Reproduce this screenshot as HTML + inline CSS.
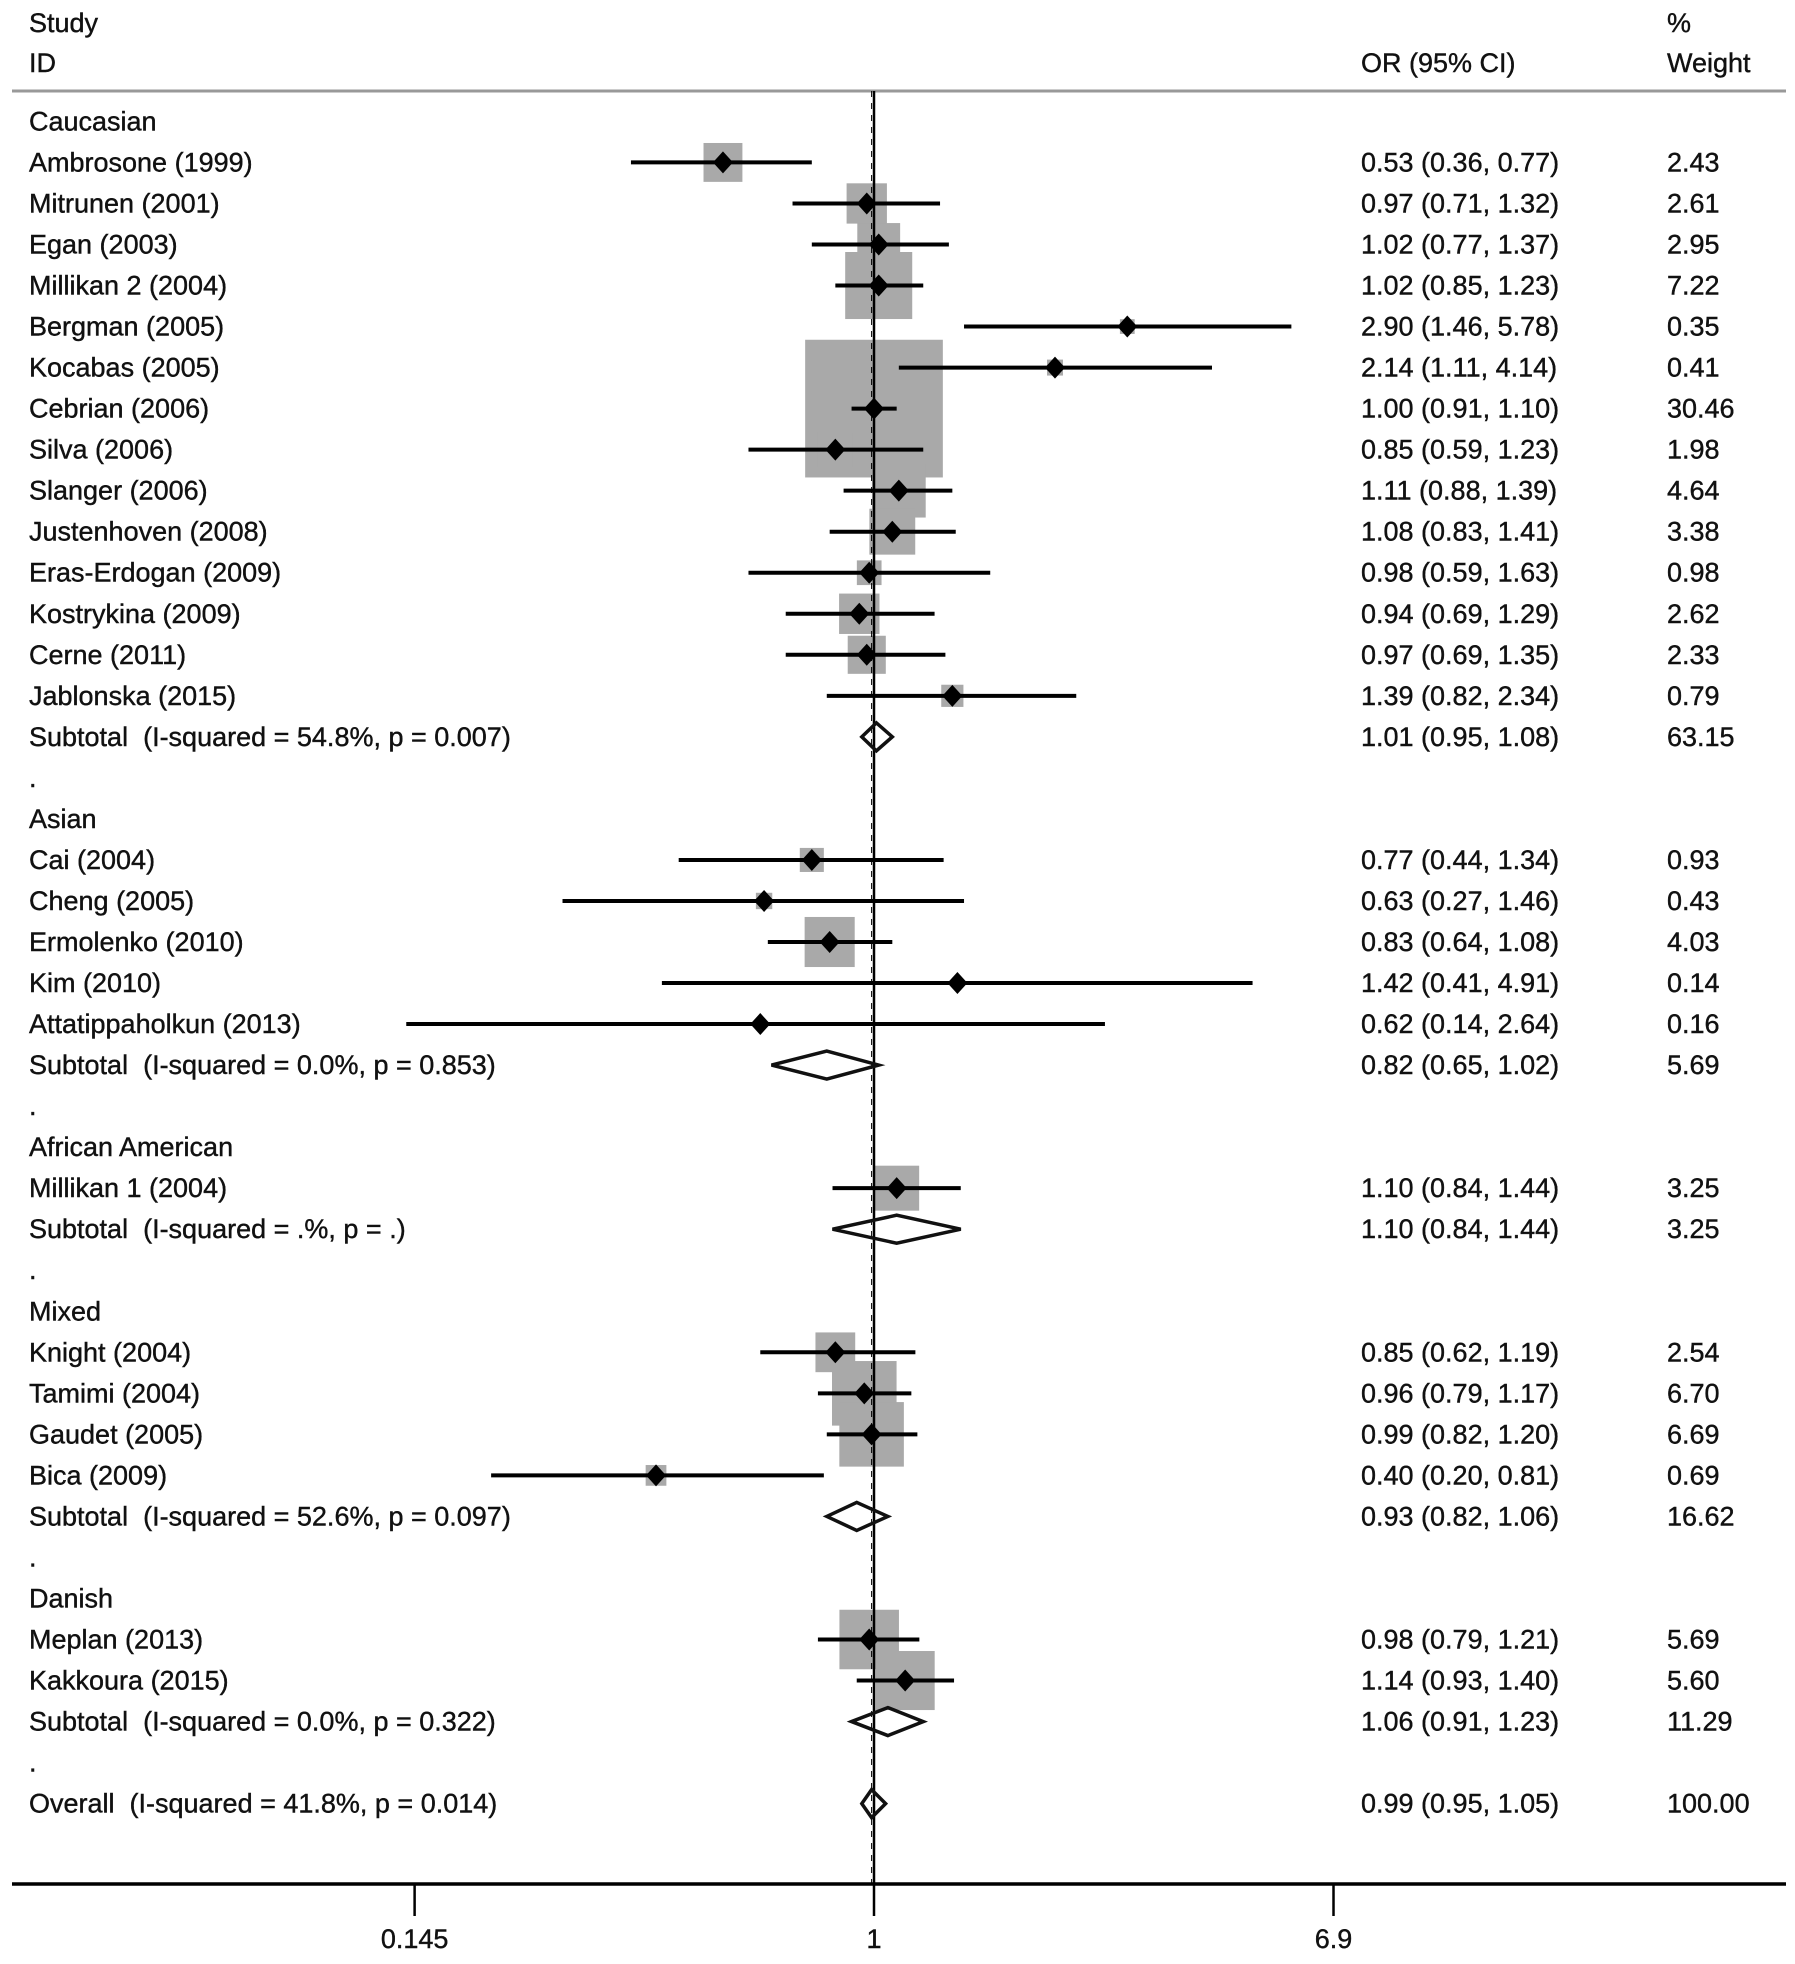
<!DOCTYPE html>
<html><head><meta charset="utf-8"><style>
body{margin:0;background:#fff;}
svg text{font-family:"Liberation Sans",Arial,sans-serif;font-size:27px;fill:#111;white-space:pre;stroke:#111;stroke-width:0.4px;}
</style></head><body>
<svg id="plot" width="1795" height="1959" viewBox="0 0 1795 1959" xmlns="http://www.w3.org/2000/svg" xml:space="preserve">
<g id="g"></g>
</svg>
<script>
const labels = ["Caucasian","Ambrosone (1999)","Mitrunen (2001)","Egan (2003)","Millikan 2 (2004)","Bergman (2005)","Kocabas (2005)","Cebrian (2006)","Silva (2006)","Slanger (2006)","Justenhoven (2008)","Eras-Erdogan (2009)","Kostrykina (2009)","Cerne (2011)","Jablonska (2015)","Subtotal  (I-squared = 54.8%, p = 0.007)",".","Asian","Cai (2004)","Cheng (2005)","Ermolenko (2010)","Kim (2010)","Attatippaholkun (2013)","Subtotal  (I-squared = 0.0%, p = 0.853)",".","African American","Millikan 1 (2004)","Subtotal  (I-squared = .%, p = .)",".","Mixed","Knight (2004)","Tamimi (2004)","Gaudet (2005)","Bica (2009)","Subtotal  (I-squared = 52.6%, p = 0.097)",".","Danish","Meplan (2013)","Kakkoura (2015)","Subtotal  (I-squared = 0.0%, p = 0.322)",".","Overall  (I-squared = 41.8%, p = 0.014)"];
const types = ["h","s","s","s","s","s","s","s","s","s","s","s","s","s","s","t","d","h","s","s","s","s","s","t","d","h","s","t","d","h","s","s","s","s","t","d","h","s","s","t","d","o"];
const ors = [null,0.53,0.97,1.02,1.02,2.90,2.14,1.00,0.85,1.11,1.08,0.98,0.94,0.97,1.39,1.01,null,null,0.77,0.63,0.83,1.42,0.62,0.82,null,null,1.10,1.10,null,null,0.85,0.96,0.99,0.40,0.93,null,null,0.98,1.14,1.06,null,0.99];
const los = [null,0.36,0.71,0.77,0.85,1.46,1.11,0.91,0.59,0.88,0.83,0.59,0.69,0.69,0.82,0.95,null,null,0.44,0.27,0.64,0.41,0.14,0.65,null,null,0.84,0.84,null,null,0.62,0.79,0.82,0.20,0.82,null,null,0.79,0.93,0.91,null,0.95];
const his = [null,0.77,1.32,1.37,1.23,5.78,4.14,1.10,1.23,1.39,1.41,1.63,1.29,1.35,2.34,1.08,null,null,1.34,1.46,1.08,4.91,2.64,1.02,null,null,1.44,1.44,null,null,1.19,1.17,1.20,0.81,1.06,null,null,1.21,1.40,1.23,null,1.05];
const weights = [null,"2.43","2.61","2.95","7.22","0.35","0.41","30.46","1.98","4.64","3.38","0.98","2.62","2.33","0.79","63.15",null,null,"0.93","0.43","4.03","0.14","0.16","5.69",null,null,"3.25","3.25",null,null,"2.54","6.70","6.69","0.69","16.62",null,null,"5.69","5.60","11.29",null,"100.00"];
const tickVals = [0.145,1,6.9];
const tickLabels = ["0.145","1","6.9"];

const NS="http://www.w3.org/2000/svg";
const g=document.getElementById('g');
const X0=874, K=237.9;
function xs(v){return X0+Math.log(v)*K;}
function ys(i){return 121.4+i*41.03;}
function mk(tag,attrs){const e=document.createElementNS(NS,tag);for(const k in attrs)e.setAttribute(k,attrs[k]);g.appendChild(e);return e;}
function txt(x,y,s,anchor){const t=mk('text',{x:x,y:y,'dominant-baseline':'central','text-anchor':anchor||'start'});t.textContent=s;return t;}

let t;
t=txt(29,23,"Study");


t=txt(29,63,"ID");


t=txt(1361,63,"OR (95% CI)");


t=txt(1667,23,"%");


t=txt(1667,63,"Weight");


let r=mk('line',{x1:12,x2:1786,y1:91,y2:91,stroke:'#999',"stroke-width":3});



for(let i=0;i<labels.length;i++){
  if(types[i]==='s'){
    const s=137.7*Math.sqrt(parseFloat(weights[i])/30.46);
    const b=mk('rect',{x:xs(ors[i])-s/2,y:ys(i)-s/2,width:s,height:s,fill:'#a9a9a9'});
    
    
  }
}
r=mk('line',{x1:X0,x2:X0,y1:91,y2:1884,stroke:'#000',"stroke-width":2.5});


r=mk('line',{x1:xs(ors[41]),x2:xs(ors[41]),y1:91,y2:1884,stroke:'#000',"stroke-width":1,"stroke-dasharray":"6,6"});



for(let i=0;i<labels.length;i++){
  const y=ys(i);
  const l=txt(29,y,labels[i]);
  
  
  if(ors[i]!==null){
    const o=txt(1361,y,ors[i].toFixed(2)+" ("+los[i].toFixed(2)+", "+his[i].toFixed(2)+")");
    
    
    const w=txt(1667,y,weights[i]);
    
    
  }
  if(types[i]==='s'){
    const c=mk('line',{x1:xs(los[i]),x2:xs(his[i]),y1:y,y2:y,stroke:'#000',"stroke-width":4});
    
    
    const x=xs(ors[i]);
    const d=mk('polygon',{points:`${x-10},${y} ${x},${y-11} ${x+10},${y} ${x},${y+11}`,fill:'#000'});
    
    
  } else if(types[i]==='t'||types[i]==='o'){
    const a=xs(los[i]),b=xs(his[i]),c=xs(ors[i]);
    const d=mk('polygon',{points:`${a},${y} ${c},${y-14} ${b},${y} ${c},${y+14}`,fill:'none',stroke:'#111',"stroke-width":3.5});
    
    
  }
}
r=mk('line',{x1:12,x2:1786,y1:1884,y2:1884,stroke:'#000',"stroke-width":3.5});


for(let k=0;k<tickVals.length;k++){
  const x=xs(tickVals[k]);
  const tk=mk('line',{x1:x,x2:x,y1:1884,y2:1916,stroke:'#000',"stroke-width":2.5});
  
  
  const tl=txt(x,1939,tickLabels[k],'middle');
  
  
}
</script>
</body></html>
